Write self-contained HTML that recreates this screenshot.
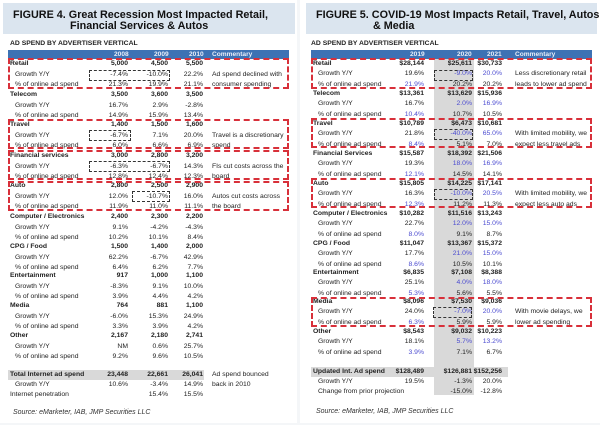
<!DOCTYPE html>
<html><head><meta charset="utf-8">
<style>
body{margin:0;width:600px;height:425px;background:#f4f6f8;overflow:hidden;font-family:"Liberation Sans",sans-serif;}
#root{position:relative;width:600px;height:425px;}
.panel{position:absolute;background:#fff;}
.t{position:absolute;white-space:nowrap;font-size:6.8px;color:#222;line-height:8px;}
.b{font-weight:bold;}
.tb{position:absolute;background:#dbe5ef;}
.ttl{position:absolute;font-weight:bold;font-size:10.8px;color:#111;white-space:nowrap;line-height:11px;}
.hdr{position:absolute;background:#3d72b4;height:9px;}
.ht{position:absolute;color:#e8eef8;font-weight:bold;font-size:6.6px;line-height:9px;}
.red{position:absolute;border:2px dashed #d8303a;box-sizing:border-box;}
.blk{position:absolute;border:1px dashed #333;box-sizing:border-box;}
.gray{position:absolute;background:#d9d9d9;}
.src{position:absolute;font-style:italic;font-size:7px;color:#333;white-space:nowrap;}
</style></head>
<body><div id="root"></div>
<script>
const leftCats=["Retail","Telecom","Travel","Financial services","Auto","Computer / Electronics","CPG / Food","Entertainment","Media","Other"];
const leftSpend=[["5,000","4,500","5,500"],["3,500","3,600","3,500"],["1,400","1,500","1,600"],["3,000","2,800","3,200"],["2,800","2,500","2,900"],["2,400","2,300","2,200"],["1,500","1,400","2,000"],["917","1,000","1,100"],["764","881","1,100"],["2,167","2,180","2,741"]];
const leftGrowth=[["-7.4%","-10.0%","22.2%"],["16.7%","2.9%","-2.8%"],["-6.7%","7.1%","20.0%"],["-6.3%","-6.7%","14.3%"],["12.0%","-10.7%","16.0%"],["9.1%","-4.2%","-4.3%"],["62.2%","-6.7%","42.9%"],["-8.3%","9.1%","10.0%"],["-6.0%","15.3%","24.9%"],["NM","0.6%","25.7%"]];
const leftPct=[["21.3%","19.9%","21.1%"],["14.9%","15.9%","13.4%"],["6.0%","6.6%","6.9%"],["12.8%","12.4%","12.3%"],["11.9%","11.0%","11.1%"],["10.2%","10.1%","8.4%"],["6.4%","6.2%","7.7%"],["3.9%","4.4%","4.2%"],["3.3%","3.9%","4.2%"],["9.2%","9.6%","10.5%"]];
const leftComm=[["Ad spend declined with","consumer spending"],null,["Travel is a discretionary","spend"],["FIs cut costs across the","board"],["Autos cut costs across","the board"],null,null,null,null,null];
const rightCats=["Retail","Telecom","Travel","Financial Services","Auto","Computer / Electronics","CPG / Food","Entertainment","Media","Other"];
const rightSpend=[["$28,144","$25,611","$30,733"],["$13,361","$13,629","$15,936"],["$10,789","$6,473","$10,681"],["$15,587","$18,392","$21,506"],["$15,805","$14,225","$17,141"],["$10,282","$11,516","$13,243"],["$11,047","$13,367","$15,372"],["$6,835","$7,108","$8,388"],["$8,096","$7,530","$9,036"],["$8,543","$9,032","$10,223"]];
const rightGrowth=[["19.6%","-9.0%","20.0%"],["16.7%","2.0%","16.9%"],["21.8%","-40.0%","65.0%"],["19.3%","18.0%","16.9%"],["16.3%","-10.0%","20.5%"],["22.7%","12.0%","15.0%"],["17.7%","21.0%","15.0%"],["25.1%","4.0%","18.0%"],["24.0%","-7.0%","20.0%"],["18.1%","5.7%","13.2%"]];
const rightPct=[["21.9%","20.2%","20.2%"],["10.4%","10.7%","10.5%"],["8.4%","5.1%","7.0%"],["12.1%","14.5%","14.1%"],["12.3%","11.2%","11.3%"],["8.0%","9.1%","8.7%"],["8.6%","10.5%","10.1%"],["5.3%","5.6%","5.5%"],["6.3%","5.9%","5.9%"],["3.9%","7.1%","6.7%"]];
const rightComm=[["Less discretionary retail","leads to lower ad spend"],null,["With limited mobility, we","expect less travel ads"],null,["With limited mobility, we","expect less auto ads"],null,null,null,["With movie delays, we","lower ad spending"],null];

const root=document.getElementById('root');
function box(cls,x,y,w,h,name){const d=document.createElement('div');d.className=cls;d.style.left=x+'px';d.style.top=y+'px';if(w!=null)d.style.width=w+'px';if(h!=null)d.style.height=h+'px';


root.appendChild(d);return d;}
function txt(s,x,y,cls,name,right,color){const d=document.createElement('div');d.className='t '+(cls||'');d.textContent=s;d.style.top=(y-4)+'px';
if(right){d.style.right=(600-x)+'px';}else d.style.left=x+'px';if(color)d.style.color=color;


root.appendChild(d);return d;}

box('panel',0,0,297,423,'left-panel');
box('panel',300,0,300,423,'right-panel');
box('tb',3,3,292,31,'left-title-box');
box('tb',306,3,291,31,'right-title-box');
let t=box('ttl',13,10,null,null,'left-title-line1');t.textContent='FIGURE 4.  Great Recession Most Impacted Retail,';
t=box('ttl',70,21,null,null,'left-title-line2');t.textContent='Financial Services & Autos';
t=box('ttl',316,10,null,null,'right-title-line1');t.textContent='FIGURE 5. COVID-19 Most Impacts Retail, Travel, Autos';
t=box('ttl',373,21,null,null,'right-title-line2');t.textContent='& Media';
txt('AD SPEND BY ADVERTISER VERTICAL',10,44,'b','left-subtitle');
txt('AD SPEND BY ADVERTISER VERTICAL',311,44,'b','right-subtitle');

box('gray',434,58,40,337,'highlight-2020-column');
box('gray',8,370,196,10,'left-total-row-bg');
box('gray',311,367,197,10,'right-total-row-bg');

box('hdr',8,50,281,null,'left-header-bar');
box('hdr',311,50,281,null,'right-header-bar');
[["2008",114],["2009",154],["2010",189],["Commentary",212]].forEach(h=>{const d=box('ht',h[1],50,null,null,'left-header-'+h[0].toLowerCase());d.textContent=h[0];});
[["2019",410],["2020",457],["2021",487],["Commentary",515]].forEach(h=>{const d=box('ht',h[1],50,null,null,'right-header-'+h[0].toLowerCase());d.textContent=h[0];});

const leftY=[64,95,125,156,186,217,247,276,306,336];
const leftX=[128,168,203];
leftCats.forEach((c,i)=>{
  const y=leftY[i];
  txt(c,10,y,'b','left-cat-'+i);
  txt('Growth Y/Y',15,y+10.5,'','left-growth-label-'+i);
  txt('% of online ad spend',15,y+21,'','left-pct-label-'+i);
  for(let k=0;k<3;k++){
    txt(leftSpend[i][k],leftX[k],y,'b','left-spend-'+i+'-'+k,true);
    txt(leftGrowth[i][k],leftX[k],y+10.5,'','left-growth-'+i+'-'+k,true);
    txt(leftPct[i][k],leftX[k],y+21,'','left-pct-'+i+'-'+k,true);
  }
  if(leftComm[i]){txt(leftComm[i][0],212,y+10.5,'','left-comment-'+i+'-a');txt(leftComm[i][1],212,y+21,'','left-comment-'+i+'-b');}
});
txt('Total Internet ad spend',10,375,'b','left-total-label');
["23,448","22,661","26,041"].forEach((v,k)=>txt(v,leftX[k],375,'b','left-total-'+k,true));
txt('Growth Y/Y',15,385,'','left-total-growth-label');
["10.6%","-3.4%","14.9%"].forEach((v,k)=>txt(v,leftX[k],385,'','left-total-growth-'+k,true));
txt('Internet penetration',10,395,'','left-penetration-label');
txt('15.4%',168,395,'','left-penetration-2009',true);
txt('15.5%',203,395,'','left-penetration-2010',true);
txt('Ad spend bounced',212,375,'','left-total-comment-a');
txt('back in 2010',212,385,'','left-total-comment-b');

const rightY=[64,94,124,154,184,214,244,273,302,332];
const rightX=[424,472,502];
const blue='#4b4bd0';
rightCats.forEach((c,i)=>{
  const y=rightY[i];
  txt(c,313,y,'b','right-cat-'+i);
  txt('Growth Y/Y',318,y+10.3,'','right-growth-label-'+i);
  txt('% of online ad spend',318,y+20.5,'','right-pct-label-'+i);
  for(let k=0;k<3;k++){
    txt(rightSpend[i][k],rightX[k],y,'b','right-spend-'+i+'-'+k,true);
    txt(rightGrowth[i][k],rightX[k],y+10.3,'','right-growth-'+i+'-'+k,true,k>0?blue:null);
    txt(rightPct[i][k],rightX[k],y+20.5,'','right-pct-'+i+'-'+k,true,k==0?blue:null);
  }
  if(rightComm[i]){txt(rightComm[i][0],515,y+10.3,'','right-comment-'+i+'-a');txt(rightComm[i][1],515,y+20.5,'','right-comment-'+i+'-b');}
});
txt('Updated Int. Ad spend',313,372,'b','right-total-label');
["$128,489","$126,881","$152,256"].forEach((v,k)=>txt(v,rightX[k],372,'b','right-total-'+k,true));
txt('Growth Y/Y',318,382,'','right-total-growth-label');
["19.5%","-1.3%","20.0%"].forEach((v,k)=>txt(v,rightX[k],382,'','right-total-growth-'+k,true));
txt('Change from prior projection',318,392,'','right-change-label');
txt('-15.0%',472,392,'','right-change-2020',true);
txt('-12.8%',502,392,'','right-change-2021',true);

box('red',8,58,281,31,'left-retail-highlight');
box('red',8,119,281,30,'left-travel-highlight');
box('red',8,150,281,30,'left-financial-highlight');
box('red',8,181,281,30,'left-auto-highlight');
box('red',311,58,281,31,'right-retail-highlight');
box('red',311,118,281,30,'right-travel-highlight');
box('red',311,178,281,30,'right-auto-highlight');
box('red',311,297,281,30,'right-media-highlight');
box('blk',89,70,81,11,'left-retail-growth-box');
box('blk',89,130,42,11,'left-travel-growth-box');
box('blk',89,161,81,11,'left-financial-growth-box');
box('blk',132,191,38,11,'left-auto-growth-box');
box('blk',434,70,39,11,'right-retail-growth-box');
box('blk',434,129,39,11,'right-travel-growth-box');
box('blk',434,189,39,11,'right-auto-growth-box');
box('blk',433,307,39,11,'right-media-growth-box');

t=box('src',13,409,null,null,'left-source');t.textContent='Source: eMarketer, IAB, JMP Securities LLC';
t=box('src',316,408,null,null,'right-source');t.textContent='Source: eMarketer, IAB, JMP Securities LLC';
</script></body></html>
